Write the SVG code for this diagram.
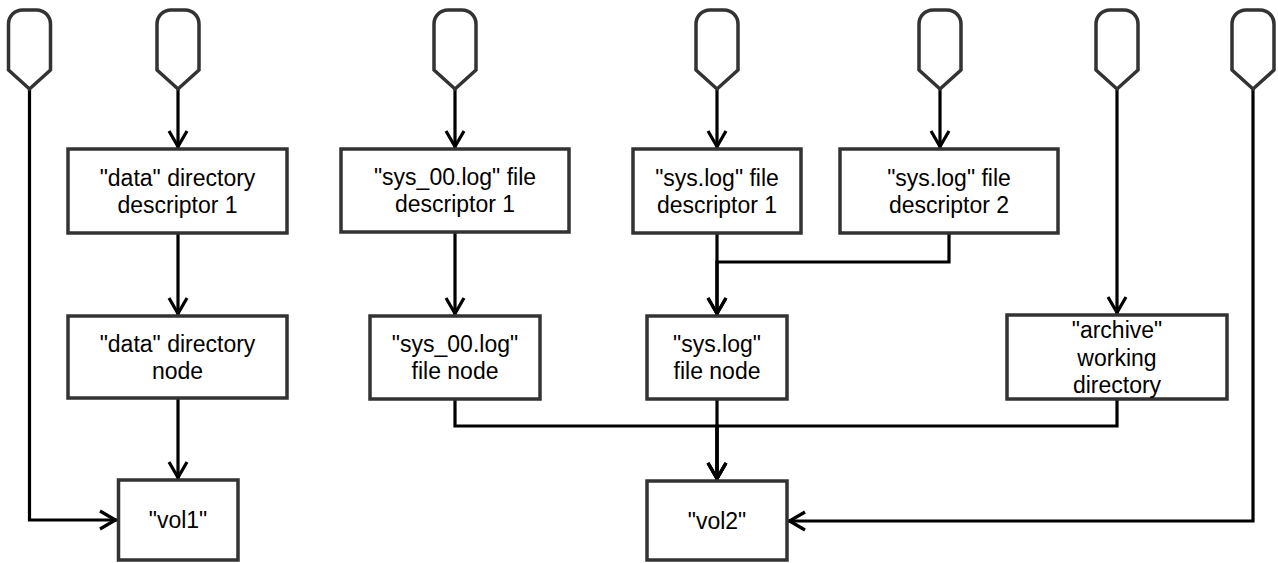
<svg xmlns="http://www.w3.org/2000/svg" width="1278" height="563" viewBox="0 0 1278 563">
  <style>
    .box { fill: #ffffff; stroke: #333333; stroke-width: 3.5; }
    .pin { fill: #ffffff; stroke: #333333; stroke-width: 3.5; stroke-linejoin: miter; }
    .lbl { font-family: "Liberation Sans", Arial, sans-serif; font-size: 23px; fill: #000000; text-anchor: middle; dominant-baseline: central; }
    .edge { fill: none; stroke: #000000; stroke-width: 3.2; }
    .arr { marker-end: url(#open); }
  </style>
  <defs>
    <marker id="open" markerUnits="userSpaceOnUse" viewBox="-20 -12 24 24" refX="0" refY="0" markerWidth="24" markerHeight="24" orient="auto">
      <path d="M-17,-9 L-1.5,0 L-17,9" fill="none" stroke="#000000" stroke-width="3.2"/>
    </marker>
    <path id="pinShape" d="M-21,70 V24 A14 14 0 0 1 -7,10 H7 A14 14 0 0 1 21,24 V70 L0,89 Z"/>
  </defs>

  <rect width="1278" height="563" fill="#ffffff"/>

  <!-- connectors -->
  <g id="connectors">
    <path class="edge arr" d="M29.5,89 V520 H117"/>
    <path class="edge arr" d="M178,89 V148"/>
    <path class="edge arr" d="M178,233 V315"/>
    <path class="edge arr" d="M178,398 V479"/>
    <path class="edge arr" d="M455,89 V148"/>
    <path class="edge arr" d="M455,232 V315"/>
    <path class="edge arr" d="M455,399 V426 H717 V480"/>
    <path class="edge arr" d="M717,89 V148"/>
    <path class="edge arr" d="M717,233 V315"/>
    <path class="edge arr" d="M717,399 V480"/>
    <path class="edge arr" d="M940,89 V148"/>
    <path class="edge arr" d="M949,233 V262 H717 V315"/>
    <path class="edge arr" d="M1117,89 V314"/>
    <path class="edge arr" d="M1117,399 V426 H717 V480"/>
    <path class="edge arr" d="M1253,89 V521 H788"/>
  </g>

  <!-- entry pins -->
  <g id="pin1"><use href="#pinShape" class="pin" x="29.5" y="0"/></g>
  <g id="pin2"><use href="#pinShape" class="pin" x="178" y="0"/></g>
  <g id="pin3"><use href="#pinShape" class="pin" x="455" y="0"/></g>
  <g id="pin4"><use href="#pinShape" class="pin" x="717" y="0"/></g>
  <g id="pin5"><use href="#pinShape" class="pin" x="940" y="0"/></g>
  <g id="pin6"><use href="#pinShape" class="pin" x="1117" y="0"/></g>
  <g id="pin7"><use href="#pinShape" class="pin" x="1253" y="0"/></g>

  <!-- nodes -->
  <g id="data-dir-desc">
    <rect class="box" x="68" y="149" width="219" height="84"/>
    <text class="lbl" x="177.5" y="177.5">"data" directory</text>
    <text class="lbl" x="177.5" y="204.5">descriptor 1</text>
  </g>
  <g id="data-dir-node">
    <rect class="box" x="68" y="316" width="219" height="82"/>
    <text class="lbl" x="177.5" y="343.5">"data" directory</text>
    <text class="lbl" x="177.5" y="370.5">node</text>
  </g>
  <g id="vol1">
    <rect class="box" x="118.5" y="480" width="119.5" height="80"/>
    <text class="lbl" x="178" y="520">"vol1"</text>
  </g>

  <g id="sys00-desc">
    <rect class="box" x="341" y="149" width="228" height="83"/>
    <text class="lbl" x="455" y="177">"sys_00.log" file</text>
    <text class="lbl" x="455" y="204">descriptor 1</text>
  </g>
  <g id="sys00-node">
    <rect class="box" x="370" y="316" width="170" height="83"/>
    <text class="lbl" x="455" y="344">"sys_00.log"</text>
    <text class="lbl" x="455" y="371">file node</text>
  </g>

  <g id="syslog-desc1">
    <rect class="box" x="633" y="149" width="168" height="84"/>
    <text class="lbl" x="717" y="177.5">"sys.log" file</text>
    <text class="lbl" x="717" y="204.5">descriptor 1</text>
  </g>
  <g id="syslog-desc2">
    <rect class="box" x="840" y="149" width="218" height="84"/>
    <text class="lbl" x="949" y="177.5">"sys.log" file</text>
    <text class="lbl" x="949" y="204.5">descriptor 2</text>
  </g>
  <g id="syslog-node">
    <rect class="box" x="647" y="316" width="140" height="83"/>
    <text class="lbl" x="717" y="344">"sys.log"</text>
    <text class="lbl" x="717" y="371">file node</text>
  </g>
  <g id="vol2">
    <rect class="box" x="647" y="481" width="140" height="79"/>
    <text class="lbl" x="717" y="520.5">"vol2"</text>
  </g>

  <g id="archive-cwd">
    <rect class="box" x="1007" y="315" width="220" height="84"/>
    <text class="lbl" x="1117" y="330">"archive"</text>
    <text class="lbl" x="1117" y="357.5">working</text>
    <text class="lbl" x="1117" y="385">directory</text>
  </g>
</svg>
